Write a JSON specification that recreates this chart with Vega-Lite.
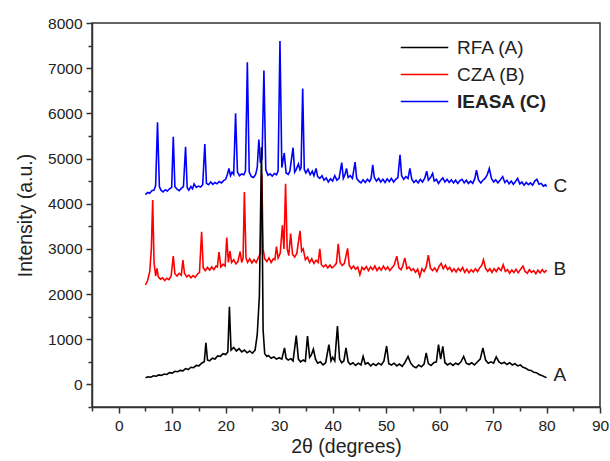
{
"$schema":"https://vega.github.io/schema/vega-lite/v6.json",
"width":508,"height":384,"autosize":"none",
"padding":{"left":92,"top":23,"right":10,"bottom":54},
"config":{"view":{"stroke":"#333","strokeWidth":1.5},"font":"Liberation Sans"},
"datasets":{
"ends":[{"t":"C","x":81.3,"y":4400},{"t":"B","x":81.3,"y":2560},{"t":"A","x":81.3,"y":200}],
"xrd":[
{"s":"IEASA (C)","x":5.0,"y":4200},{"s":"IEASA (C)","x":5.4,"y":4250},{"s":"IEASA (C)","x":5.8,"y":4230},{"s":"IEASA (C)","x":6.2,"y":4290},{"s":"IEASA (C)","x":6.6,"y":4300},{"s":"IEASA (C)","x":6.9,"y":4400},{"s":"IEASA (C)","x":7.25,"y":5800},{"s":"IEASA (C)","x":7.6,"y":4380},{"s":"IEASA (C)","x":7.9,"y":4300},{"s":"IEASA (C)","x":8.3,"y":4260},{"s":"IEASA (C)","x":8.7,"y":4310},{"s":"IEASA (C)","x":9.1,"y":4280},{"s":"IEASA (C)","x":9.5,"y":4330},{"s":"IEASA (C)","x":9.9,"y":4360},{"s":"IEASA (C)","x":10.2,"y":5480},{"s":"IEASA (C)","x":10.5,"y":4380},{"s":"IEASA (C)","x":10.9,"y":4320},{"s":"IEASA (C)","x":11.3,"y":4290},{"s":"IEASA (C)","x":11.7,"y":4340},{"s":"IEASA (C)","x":12.1,"y":4380},{"s":"IEASA (C)","x":12.5,"y":5260},{"s":"IEASA (C)","x":12.8,"y":4360},{"s":"IEASA (C)","x":13.1,"y":4300},{"s":"IEASA (C)","x":13.5,"y":4380},{"s":"IEASA (C)","x":13.8,"y":4330},{"s":"IEASA (C)","x":14.1,"y":4440},{"s":"IEASA (C)","x":14.5,"y":4360},{"s":"IEASA (C)","x":14.9,"y":4390},{"s":"IEASA (C)","x":15.3,"y":4370},{"s":"IEASA (C)","x":15.7,"y":4420},{"s":"IEASA (C)","x":16.1,"y":5320},{"s":"IEASA (C)","x":16.4,"y":4450},{"s":"IEASA (C)","x":16.8,"y":4420},{"s":"IEASA (C)","x":17.2,"y":4480},{"s":"IEASA (C)","x":17.6,"y":4430},{"s":"IEASA (C)","x":18.0,"y":4470},{"s":"IEASA (C)","x":18.4,"y":4440},{"s":"IEASA (C)","x":18.8,"y":4490},{"s":"IEASA (C)","x":19.2,"y":4460},{"s":"IEASA (C)","x":19.6,"y":4510},{"s":"IEASA (C)","x":20.0,"y":4540},{"s":"IEASA (C)","x":20.3,"y":4640},{"s":"IEASA (C)","x":20.6,"y":4780},{"s":"IEASA (C)","x":20.9,"y":4620},{"s":"IEASA (C)","x":21.2,"y":4700},{"s":"IEASA (C)","x":21.5,"y":4650},{"s":"IEASA (C)","x":21.85,"y":6000},{"s":"IEASA (C)","x":22.2,"y":4700},{"s":"IEASA (C)","x":22.6,"y":4620},{"s":"IEASA (C)","x":23.0,"y":4660},{"s":"IEASA (C)","x":23.4,"y":4640},{"s":"IEASA (C)","x":23.7,"y":4720},{"s":"IEASA (C)","x":24.05,"y":7130},{"s":"IEASA (C)","x":24.4,"y":4700},{"s":"IEASA (C)","x":24.8,"y":4600},{"s":"IEASA (C)","x":25.2,"y":4580},{"s":"IEASA (C)","x":25.6,"y":4650},{"s":"IEASA (C)","x":25.9,"y":4800},{"s":"IEASA (C)","x":26.2,"y":5420},{"s":"IEASA (C)","x":26.5,"y":4900},{"s":"IEASA (C)","x":26.8,"y":5000},{"s":"IEASA (C)","x":27.15,"y":6950},{"s":"IEASA (C)","x":27.5,"y":4750},{"s":"IEASA (C)","x":27.9,"y":4630},{"s":"IEASA (C)","x":28.3,"y":4660},{"s":"IEASA (C)","x":28.7,"y":4610},{"s":"IEASA (C)","x":29.1,"y":4670},{"s":"IEASA (C)","x":29.5,"y":4640},{"s":"IEASA (C)","x":29.8,"y":4720},{"s":"IEASA (C)","x":30.15,"y":7600},{"s":"IEASA (C)","x":30.5,"y":4800},{"s":"IEASA (C)","x":30.95,"y":5120},{"s":"IEASA (C)","x":31.3,"y":4680},{"s":"IEASA (C)","x":31.7,"y":4650},{"s":"IEASA (C)","x":32.0,"y":4720},{"s":"IEASA (C)","x":32.6,"y":5240},{"s":"IEASA (C)","x":32.9,"y":4700},{"s":"IEASA (C)","x":33.2,"y":4760},{"s":"IEASA (C)","x":33.6,"y":4880},{"s":"IEASA (C)","x":33.9,"y":4750},{"s":"IEASA (C)","x":34.1,"y":4800},{"s":"IEASA (C)","x":34.4,"y":6550},{"s":"IEASA (C)","x":34.7,"y":4760},{"s":"IEASA (C)","x":35.0,"y":4680},{"s":"IEASA (C)","x":35.4,"y":4760},{"s":"IEASA (C)","x":35.8,"y":4640},{"s":"IEASA (C)","x":36.2,"y":4720},{"s":"IEASA (C)","x":36.5,"y":4620},{"s":"IEASA (C)","x":36.9,"y":4780},{"s":"IEASA (C)","x":37.2,"y":4600},{"s":"IEASA (C)","x":37.6,"y":4560},{"s":"IEASA (C)","x":38.0,"y":4620},{"s":"IEASA (C)","x":38.4,"y":4520},{"s":"IEASA (C)","x":38.8,"y":4570},{"s":"IEASA (C)","x":39.2,"y":4480},{"s":"IEASA (C)","x":39.6,"y":4550},{"s":"IEASA (C)","x":40.0,"y":4500},{"s":"IEASA (C)","x":40.4,"y":4620},{"s":"IEASA (C)","x":40.8,"y":4520},{"s":"IEASA (C)","x":41.2,"y":4560},{"s":"IEASA (C)","x":41.7,"y":4910},{"s":"IEASA (C)","x":42.0,"y":4560},{"s":"IEASA (C)","x":42.3,"y":4640},{"s":"IEASA (C)","x":42.6,"y":4780},{"s":"IEASA (C)","x":42.9,"y":4580},{"s":"IEASA (C)","x":43.3,"y":4620},{"s":"IEASA (C)","x":43.7,"y":4560},{"s":"IEASA (C)","x":44.2,"y":4920},{"s":"IEASA (C)","x":44.5,"y":4560},{"s":"IEASA (C)","x":44.9,"y":4500},{"s":"IEASA (C)","x":45.3,"y":4460},{"s":"IEASA (C)","x":45.7,"y":4530},{"s":"IEASA (C)","x":46.1,"y":4470},{"s":"IEASA (C)","x":46.5,"y":4540},{"s":"IEASA (C)","x":46.9,"y":4490},{"s":"IEASA (C)","x":47.2,"y":4560},{"s":"IEASA (C)","x":47.5,"y":4860},{"s":"IEASA (C)","x":47.8,"y":4580},{"s":"IEASA (C)","x":48.2,"y":4500},{"s":"IEASA (C)","x":48.6,"y":4560},{"s":"IEASA (C)","x":49.0,"y":4480},{"s":"IEASA (C)","x":49.4,"y":4540},{"s":"IEASA (C)","x":49.8,"y":4470},{"s":"IEASA (C)","x":50.2,"y":4550},{"s":"IEASA (C)","x":50.6,"y":4490},{"s":"IEASA (C)","x":51.0,"y":4560},{"s":"IEASA (C)","x":51.4,"y":4480},{"s":"IEASA (C)","x":51.8,"y":4540},{"s":"IEASA (C)","x":52.2,"y":4580},{"s":"IEASA (C)","x":52.6,"y":5080},{"s":"IEASA (C)","x":52.9,"y":4620},{"s":"IEASA (C)","x":53.3,"y":4540},{"s":"IEASA (C)","x":53.7,"y":4600},{"s":"IEASA (C)","x":54.1,"y":4560},{"s":"IEASA (C)","x":54.45,"y":4780},{"s":"IEASA (C)","x":54.8,"y":4540},{"s":"IEASA (C)","x":55.2,"y":4470},{"s":"IEASA (C)","x":55.6,"y":4520},{"s":"IEASA (C)","x":56.0,"y":4460},{"s":"IEASA (C)","x":56.4,"y":4540},{"s":"IEASA (C)","x":56.8,"y":4480},{"s":"IEASA (C)","x":57.2,"y":4560},{"s":"IEASA (C)","x":57.6,"y":4720},{"s":"IEASA (C)","x":57.9,"y":4520},{"s":"IEASA (C)","x":58.3,"y":4580},{"s":"IEASA (C)","x":58.7,"y":4670},{"s":"IEASA (C)","x":59.0,"y":4500},{"s":"IEASA (C)","x":59.4,"y":4540},{"s":"IEASA (C)","x":59.8,"y":4450},{"s":"IEASA (C)","x":60.2,"y":4520},{"s":"IEASA (C)","x":60.6,"y":4570},{"s":"IEASA (C)","x":61.0,"y":4480},{"s":"IEASA (C)","x":61.4,"y":4540},{"s":"IEASA (C)","x":61.8,"y":4470},{"s":"IEASA (C)","x":62.2,"y":4530},{"s":"IEASA (C)","x":62.6,"y":4460},{"s":"IEASA (C)","x":63.0,"y":4520},{"s":"IEASA (C)","x":63.4,"y":4450},{"s":"IEASA (C)","x":63.8,"y":4510},{"s":"IEASA (C)","x":64.2,"y":4540},{"s":"IEASA (C)","x":64.6,"y":4460},{"s":"IEASA (C)","x":65.0,"y":4520},{"s":"IEASA (C)","x":65.4,"y":4450},{"s":"IEASA (C)","x":65.8,"y":4500},{"s":"IEASA (C)","x":66.2,"y":4450},{"s":"IEASA (C)","x":66.6,"y":4560},{"s":"IEASA (C)","x":66.9,"y":4740},{"s":"IEASA (C)","x":67.3,"y":4520},{"s":"IEASA (C)","x":67.7,"y":4460},{"s":"IEASA (C)","x":68.1,"y":4520},{"s":"IEASA (C)","x":68.5,"y":4560},{"s":"IEASA (C)","x":68.9,"y":4640},{"s":"IEASA (C)","x":69.3,"y":4780},{"s":"IEASA (C)","x":69.7,"y":4560},{"s":"IEASA (C)","x":70.1,"y":4480},{"s":"IEASA (C)","x":70.5,"y":4530},{"s":"IEASA (C)","x":70.9,"y":4460},{"s":"IEASA (C)","x":71.3,"y":4520},{"s":"IEASA (C)","x":71.8,"y":4600},{"s":"IEASA (C)","x":72.2,"y":4470},{"s":"IEASA (C)","x":72.6,"y":4520},{"s":"IEASA (C)","x":73.0,"y":4440},{"s":"IEASA (C)","x":73.4,"y":4500},{"s":"IEASA (C)","x":73.8,"y":4430},{"s":"IEASA (C)","x":74.2,"y":4490},{"s":"IEASA (C)","x":74.6,"y":4560},{"s":"IEASA (C)","x":75.0,"y":4440},{"s":"IEASA (C)","x":75.4,"y":4480},{"s":"IEASA (C)","x":75.8,"y":4410},{"s":"IEASA (C)","x":76.2,"y":4470},{"s":"IEASA (C)","x":76.6,"y":4420},{"s":"IEASA (C)","x":77.0,"y":4460},{"s":"IEASA (C)","x":77.4,"y":4410},{"s":"IEASA (C)","x":77.8,"y":4500},{"s":"IEASA (C)","x":78.2,"y":4540},{"s":"IEASA (C)","x":78.6,"y":4430},{"s":"IEASA (C)","x":79.0,"y":4450},{"s":"IEASA (C)","x":79.4,"y":4390},{"s":"IEASA (C)","x":79.8,"y":4420},{"s":"IEASA (C)","x":80.0,"y":4380},
{"s":"CZA (B)","x":5.0,"y":2200},{"s":"CZA (B)","x":5.4,"y":2300},{"s":"CZA (B)","x":5.8,"y":2500},{"s":"CZA (B)","x":6.1,"y":3000},{"s":"CZA (B)","x":6.35,"y":4080},{"s":"CZA (B)","x":6.6,"y":2700},{"s":"CZA (B)","x":6.9,"y":2400},{"s":"CZA (B)","x":7.15,"y":2570},{"s":"CZA (B)","x":7.4,"y":2380},{"s":"CZA (B)","x":7.8,"y":2330},{"s":"CZA (B)","x":8.2,"y":2360},{"s":"CZA (B)","x":8.6,"y":2300},{"s":"CZA (B)","x":9.0,"y":2350},{"s":"CZA (B)","x":9.4,"y":2320},{"s":"CZA (B)","x":9.8,"y":2400},{"s":"CZA (B)","x":10.2,"y":2840},{"s":"CZA (B)","x":10.5,"y":2450},{"s":"CZA (B)","x":10.9,"y":2400},{"s":"CZA (B)","x":11.3,"y":2460},{"s":"CZA (B)","x":11.7,"y":2420},{"s":"CZA (B)","x":12.0,"y":2750},{"s":"CZA (B)","x":12.3,"y":2460},{"s":"CZA (B)","x":12.7,"y":2380},{"s":"CZA (B)","x":13.1,"y":2420},{"s":"CZA (B)","x":13.5,"y":2360},{"s":"CZA (B)","x":13.9,"y":2410},{"s":"CZA (B)","x":14.3,"y":2370},{"s":"CZA (B)","x":14.7,"y":2440},{"s":"CZA (B)","x":15.1,"y":2480},{"s":"CZA (B)","x":15.5,"y":3380},{"s":"CZA (B)","x":15.8,"y":2580},{"s":"CZA (B)","x":16.2,"y":2520},{"s":"CZA (B)","x":16.6,"y":2590},{"s":"CZA (B)","x":17.0,"y":2530},{"s":"CZA (B)","x":17.4,"y":2600},{"s":"CZA (B)","x":17.8,"y":2540},{"s":"CZA (B)","x":18.2,"y":2620},{"s":"CZA (B)","x":18.45,"y":2600},{"s":"CZA (B)","x":18.75,"y":2930},{"s":"CZA (B)","x":19.1,"y":2600},{"s":"CZA (B)","x":19.5,"y":2660},{"s":"CZA (B)","x":19.9,"y":2620},{"s":"CZA (B)","x":20.2,"y":3250},{"s":"CZA (B)","x":20.5,"y":2700},{"s":"CZA (B)","x":20.8,"y":2950},{"s":"CZA (B)","x":21.1,"y":2700},{"s":"CZA (B)","x":21.5,"y":2760},{"s":"CZA (B)","x":21.9,"y":2670},{"s":"CZA (B)","x":22.3,"y":2720},{"s":"CZA (B)","x":22.7,"y":2940},{"s":"CZA (B)","x":23.0,"y":2700},{"s":"CZA (B)","x":23.25,"y":2800},{"s":"CZA (B)","x":23.5,"y":4260},{"s":"CZA (B)","x":23.8,"y":2800},{"s":"CZA (B)","x":24.1,"y":2700},{"s":"CZA (B)","x":24.5,"y":2780},{"s":"CZA (B)","x":24.9,"y":2690},{"s":"CZA (B)","x":25.3,"y":2760},{"s":"CZA (B)","x":25.7,"y":2700},{"s":"CZA (B)","x":26.1,"y":2800},{"s":"CZA (B)","x":26.5,"y":2900},{"s":"CZA (B)","x":26.75,"y":4650},{"s":"CZA (B)","x":27.0,"y":3000},{"s":"CZA (B)","x":27.3,"y":2780},{"s":"CZA (B)","x":27.7,"y":2720},{"s":"CZA (B)","x":28.1,"y":2800},{"s":"CZA (B)","x":28.5,"y":2700},{"s":"CZA (B)","x":28.9,"y":2780},{"s":"CZA (B)","x":29.2,"y":2760},{"s":"CZA (B)","x":29.5,"y":3050},{"s":"CZA (B)","x":29.8,"y":2800},{"s":"CZA (B)","x":30.2,"y":2900},{"s":"CZA (B)","x":30.6,"y":3520},{"s":"CZA (B)","x":30.9,"y":3000},{"s":"CZA (B)","x":31.2,"y":4440},{"s":"CZA (B)","x":31.5,"y":3000},{"s":"CZA (B)","x":31.8,"y":2850},{"s":"CZA (B)","x":32.15,"y":3340},{"s":"CZA (B)","x":32.5,"y":2880},{"s":"CZA (B)","x":32.9,"y":2820},{"s":"CZA (B)","x":33.3,"y":2900},{"s":"CZA (B)","x":33.9,"y":3400},{"s":"CZA (B)","x":34.2,"y":2950},{"s":"CZA (B)","x":34.5,"y":3000},{"s":"CZA (B)","x":34.9,"y":2760},{"s":"CZA (B)","x":35.3,"y":2820},{"s":"CZA (B)","x":35.7,"y":2700},{"s":"CZA (B)","x":36.1,"y":2780},{"s":"CZA (B)","x":36.5,"y":2680},{"s":"CZA (B)","x":36.9,"y":2750},{"s":"CZA (B)","x":37.3,"y":2700},{"s":"CZA (B)","x":37.6,"y":3000},{"s":"CZA (B)","x":37.9,"y":2650},{"s":"CZA (B)","x":38.3,"y":2600},{"s":"CZA (B)","x":38.7,"y":2650},{"s":"CZA (B)","x":39.1,"y":2580},{"s":"CZA (B)","x":39.5,"y":2640},{"s":"CZA (B)","x":39.9,"y":2580},{"s":"CZA (B)","x":40.3,"y":2620},{"s":"CZA (B)","x":40.7,"y":2680},{"s":"CZA (B)","x":41.05,"y":3110},{"s":"CZA (B)","x":41.4,"y":2700},{"s":"CZA (B)","x":41.8,"y":2630},{"s":"CZA (B)","x":42.2,"y":2680},{"s":"CZA (B)","x":42.8,"y":3010},{"s":"CZA (B)","x":43.1,"y":2640},{"s":"CZA (B)","x":43.5,"y":2560},{"s":"CZA (B)","x":43.9,"y":2620},{"s":"CZA (B)","x":44.3,"y":2550},{"s":"CZA (B)","x":44.7,"y":2600},{"s":"CZA (B)","x":45.1,"y":2430},{"s":"CZA (B)","x":45.5,"y":2590},{"s":"CZA (B)","x":45.9,"y":2540},{"s":"CZA (B)","x":46.3,"y":2610},{"s":"CZA (B)","x":46.7,"y":2520},{"s":"CZA (B)","x":47.1,"y":2600},{"s":"CZA (B)","x":47.5,"y":2540},{"s":"CZA (B)","x":47.9,"y":2620},{"s":"CZA (B)","x":48.3,"y":2520},{"s":"CZA (B)","x":48.7,"y":2590},{"s":"CZA (B)","x":49.1,"y":2530},{"s":"CZA (B)","x":49.5,"y":2620},{"s":"CZA (B)","x":49.9,"y":2540},{"s":"CZA (B)","x":50.3,"y":2600},{"s":"CZA (B)","x":50.7,"y":2520},{"s":"CZA (B)","x":51.1,"y":2580},{"s":"CZA (B)","x":51.5,"y":2640},{"s":"CZA (B)","x":52.0,"y":2840},{"s":"CZA (B)","x":52.4,"y":2580},{"s":"CZA (B)","x":52.8,"y":2540},{"s":"CZA (B)","x":53.1,"y":2620},{"s":"CZA (B)","x":53.5,"y":2800},{"s":"CZA (B)","x":53.9,"y":2560},{"s":"CZA (B)","x":54.3,"y":2600},{"s":"CZA (B)","x":54.7,"y":2520},{"s":"CZA (B)","x":55.1,"y":2560},{"s":"CZA (B)","x":55.5,"y":2480},{"s":"CZA (B)","x":55.9,"y":2550},{"s":"CZA (B)","x":56.3,"y":2390},{"s":"CZA (B)","x":56.7,"y":2560},{"s":"CZA (B)","x":57.1,"y":2500},{"s":"CZA (B)","x":57.5,"y":2600},{"s":"CZA (B)","x":57.9,"y":2860},{"s":"CZA (B)","x":58.3,"y":2570},{"s":"CZA (B)","x":58.7,"y":2520},{"s":"CZA (B)","x":59.1,"y":2580},{"s":"CZA (B)","x":59.5,"y":2500},{"s":"CZA (B)","x":59.9,"y":2610},{"s":"CZA (B)","x":60.3,"y":2680},{"s":"CZA (B)","x":60.7,"y":2560},{"s":"CZA (B)","x":61.1,"y":2640},{"s":"CZA (B)","x":61.5,"y":2540},{"s":"CZA (B)","x":61.9,"y":2590},{"s":"CZA (B)","x":62.3,"y":2500},{"s":"CZA (B)","x":62.7,"y":2560},{"s":"CZA (B)","x":63.1,"y":2490},{"s":"CZA (B)","x":63.5,"y":2570},{"s":"CZA (B)","x":63.9,"y":2510},{"s":"CZA (B)","x":64.3,"y":2590},{"s":"CZA (B)","x":64.7,"y":2480},{"s":"CZA (B)","x":65.1,"y":2550},{"s":"CZA (B)","x":65.5,"y":2470},{"s":"CZA (B)","x":65.9,"y":2540},{"s":"CZA (B)","x":66.3,"y":2490},{"s":"CZA (B)","x":66.7,"y":2560},{"s":"CZA (B)","x":67.1,"y":2500},{"s":"CZA (B)","x":67.5,"y":2580},{"s":"CZA (B)","x":67.9,"y":2640},{"s":"CZA (B)","x":68.2,"y":2760},{"s":"CZA (B)","x":68.6,"y":2570},{"s":"CZA (B)","x":69.0,"y":2500},{"s":"CZA (B)","x":69.4,"y":2560},{"s":"CZA (B)","x":69.8,"y":2480},{"s":"CZA (B)","x":70.2,"y":2560},{"s":"CZA (B)","x":70.6,"y":2500},{"s":"CZA (B)","x":71.0,"y":2580},{"s":"CZA (B)","x":71.5,"y":2520},{"s":"CZA (B)","x":71.9,"y":2650},{"s":"CZA (B)","x":72.3,"y":2500},{"s":"CZA (B)","x":72.7,"y":2540},{"s":"CZA (B)","x":73.1,"y":2460},{"s":"CZA (B)","x":73.5,"y":2530},{"s":"CZA (B)","x":73.9,"y":2480},{"s":"CZA (B)","x":74.3,"y":2550},{"s":"CZA (B)","x":74.7,"y":2470},{"s":"CZA (B)","x":75.1,"y":2540},{"s":"CZA (B)","x":75.6,"y":2620},{"s":"CZA (B)","x":76.0,"y":2500},{"s":"CZA (B)","x":76.4,"y":2460},{"s":"CZA (B)","x":76.8,"y":2540},{"s":"CZA (B)","x":77.2,"y":2480},{"s":"CZA (B)","x":77.6,"y":2520},{"s":"CZA (B)","x":78.0,"y":2450},{"s":"CZA (B)","x":78.4,"y":2530},{"s":"CZA (B)","x":78.8,"y":2470},{"s":"CZA (B)","x":79.2,"y":2540},{"s":"CZA (B)","x":79.6,"y":2480},{"s":"CZA (B)","x":80.0,"y":2530},
{"s":"RFA (A)","x":5.0,"y":150},{"s":"RFA (A)","x":5.5,"y":170},{"s":"RFA (A)","x":6.0,"y":160},{"s":"RFA (A)","x":6.5,"y":190},{"s":"RFA (A)","x":7.0,"y":180},{"s":"RFA (A)","x":7.5,"y":210},{"s":"RFA (A)","x":8.0,"y":200},{"s":"RFA (A)","x":8.5,"y":230},{"s":"RFA (A)","x":9.0,"y":220},{"s":"RFA (A)","x":9.5,"y":260},{"s":"RFA (A)","x":10.0,"y":250},{"s":"RFA (A)","x":10.5,"y":290},{"s":"RFA (A)","x":11.0,"y":280},{"s":"RFA (A)","x":11.5,"y":310},{"s":"RFA (A)","x":12.0,"y":300},{"s":"RFA (A)","x":12.5,"y":350},{"s":"RFA (A)","x":13.0,"y":330},{"s":"RFA (A)","x":13.5,"y":380},{"s":"RFA (A)","x":14.0,"y":370},{"s":"RFA (A)","x":14.5,"y":420},{"s":"RFA (A)","x":15.0,"y":410},{"s":"RFA (A)","x":15.5,"y":470},{"s":"RFA (A)","x":16.0,"y":500},{"s":"RFA (A)","x":16.3,"y":920},{"s":"RFA (A)","x":16.6,"y":540},{"s":"RFA (A)","x":17.0,"y":520},{"s":"RFA (A)","x":17.5,"y":580},{"s":"RFA (A)","x":18.0,"y":560},{"s":"RFA (A)","x":18.5,"y":630},{"s":"RFA (A)","x":19.0,"y":620},{"s":"RFA (A)","x":19.5,"y":680},{"s":"RFA (A)","x":20.0,"y":660},{"s":"RFA (A)","x":20.4,"y":720},{"s":"RFA (A)","x":20.7,"y":1720},{"s":"RFA (A)","x":21.0,"y":760},{"s":"RFA (A)","x":21.5,"y":820},{"s":"RFA (A)","x":22.0,"y":740},{"s":"RFA (A)","x":22.5,"y":790},{"s":"RFA (A)","x":23.0,"y":720},{"s":"RFA (A)","x":23.5,"y":760},{"s":"RFA (A)","x":24.0,"y":700},{"s":"RFA (A)","x":24.5,"y":740},{"s":"RFA (A)","x":25.0,"y":690},{"s":"RFA (A)","x":25.5,"y":760},{"s":"RFA (A)","x":25.9,"y":1100},{"s":"RFA (A)","x":26.3,"y":1950},{"s":"RFA (A)","x":26.7,"y":5250},{"s":"RFA (A)","x":27.0,"y":1200},{"s":"RFA (A)","x":27.3,"y":680},{"s":"RFA (A)","x":27.7,"y":620},{"s":"RFA (A)","x":28.0,"y":640},{"s":"RFA (A)","x":28.5,"y":580},{"s":"RFA (A)","x":29.0,"y":610},{"s":"RFA (A)","x":29.5,"y":560},{"s":"RFA (A)","x":30.0,"y":590},{"s":"RFA (A)","x":30.5,"y":560},{"s":"RFA (A)","x":31.0,"y":810},{"s":"RFA (A)","x":31.3,"y":580},{"s":"RFA (A)","x":31.7,"y":540},{"s":"RFA (A)","x":32.2,"y":570},{"s":"RFA (A)","x":32.6,"y":520},{"s":"RFA (A)","x":33.2,"y":1080},{"s":"RFA (A)","x":33.6,"y":560},{"s":"RFA (A)","x":34.0,"y":500},{"s":"RFA (A)","x":34.5,"y":540},{"s":"RFA (A)","x":34.9,"y":510},{"s":"RFA (A)","x":35.3,"y":1070},{"s":"RFA (A)","x":35.7,"y":600},{"s":"RFA (A)","x":36.0,"y":650},{"s":"RFA (A)","x":36.4,"y":780},{"s":"RFA (A)","x":36.8,"y":560},{"s":"RFA (A)","x":37.2,"y":470},{"s":"RFA (A)","x":37.7,"y":500},{"s":"RFA (A)","x":38.2,"y":430},{"s":"RFA (A)","x":38.7,"y":480},{"s":"RFA (A)","x":39.3,"y":880},{"s":"RFA (A)","x":39.7,"y":520},{"s":"RFA (A)","x":40.0,"y":600},{"s":"RFA (A)","x":40.4,"y":520},{"s":"RFA (A)","x":40.9,"y":1290},{"s":"RFA (A)","x":41.3,"y":560},{"s":"RFA (A)","x":41.7,"y":480},{"s":"RFA (A)","x":42.1,"y":520},{"s":"RFA (A)","x":42.5,"y":810},{"s":"RFA (A)","x":42.9,"y":500},{"s":"RFA (A)","x":43.3,"y":440},{"s":"RFA (A)","x":43.8,"y":480},{"s":"RFA (A)","x":44.3,"y":420},{"s":"RFA (A)","x":44.8,"y":470},{"s":"RFA (A)","x":45.3,"y":430},{"s":"RFA (A)","x":45.7,"y":620},{"s":"RFA (A)","x":46.1,"y":450},{"s":"RFA (A)","x":46.6,"y":480},{"s":"RFA (A)","x":47.1,"y":410},{"s":"RFA (A)","x":47.6,"y":460},{"s":"RFA (A)","x":48.1,"y":420},{"s":"RFA (A)","x":48.6,"y":470},{"s":"RFA (A)","x":49.1,"y":430},{"s":"RFA (A)","x":49.6,"y":520},{"s":"RFA (A)","x":50.1,"y":850},{"s":"RFA (A)","x":50.5,"y":460},{"s":"RFA (A)","x":51.0,"y":430},{"s":"RFA (A)","x":51.5,"y":470},{"s":"RFA (A)","x":52.0,"y":410},{"s":"RFA (A)","x":52.5,"y":450},{"s":"RFA (A)","x":53.0,"y":400},{"s":"RFA (A)","x":53.5,"y":480},{"s":"RFA (A)","x":54.1,"y":620},{"s":"RFA (A)","x":54.6,"y":470},{"s":"RFA (A)","x":55.1,"y":400},{"s":"RFA (A)","x":55.6,"y":370},{"s":"RFA (A)","x":56.1,"y":430},{"s":"RFA (A)","x":56.6,"y":390},{"s":"RFA (A)","x":57.1,"y":450},{"s":"RFA (A)","x":57.5,"y":700},{"s":"RFA (A)","x":57.9,"y":460},{"s":"RFA (A)","x":58.4,"y":420},{"s":"RFA (A)","x":58.9,"y":480},{"s":"RFA (A)","x":59.4,"y":500},{"s":"RFA (A)","x":59.8,"y":880},{"s":"RFA (A)","x":60.2,"y":560},{"s":"RFA (A)","x":60.6,"y":840},{"s":"RFA (A)","x":61.0,"y":480},{"s":"RFA (A)","x":61.5,"y":430},{"s":"RFA (A)","x":62.0,"y":470},{"s":"RFA (A)","x":62.5,"y":420},{"s":"RFA (A)","x":63.0,"y":470},{"s":"RFA (A)","x":63.5,"y":440},{"s":"RFA (A)","x":64.0,"y":500},{"s":"RFA (A)","x":64.5,"y":620},{"s":"RFA (A)","x":65.0,"y":470},{"s":"RFA (A)","x":65.5,"y":440},{"s":"RFA (A)","x":66.0,"y":480},{"s":"RFA (A)","x":66.5,"y":430},{"s":"RFA (A)","x":67.0,"y":490},{"s":"RFA (A)","x":67.6,"y":560},{"s":"RFA (A)","x":68.1,"y":810},{"s":"RFA (A)","x":68.6,"y":540},{"s":"RFA (A)","x":69.1,"y":470},{"s":"RFA (A)","x":69.6,"y":500},{"s":"RFA (A)","x":70.1,"y":470},{"s":"RFA (A)","x":70.6,"y":610},{"s":"RFA (A)","x":71.1,"y":500},{"s":"RFA (A)","x":71.6,"y":460},{"s":"RFA (A)","x":72.1,"y":490},{"s":"RFA (A)","x":72.6,"y":440},{"s":"RFA (A)","x":73.1,"y":480},{"s":"RFA (A)","x":73.6,"y":430},{"s":"RFA (A)","x":74.1,"y":460},{"s":"RFA (A)","x":74.6,"y":410},{"s":"RFA (A)","x":75.1,"y":430},{"s":"RFA (A)","x":75.6,"y":380},{"s":"RFA (A)","x":76.1,"y":360},{"s":"RFA (A)","x":76.6,"y":320},{"s":"RFA (A)","x":77.1,"y":310},{"s":"RFA (A)","x":77.6,"y":270},{"s":"RFA (A)","x":78.1,"y":260},{"s":"RFA (A)","x":78.6,"y":220},{"s":"RFA (A)","x":79.1,"y":200},{"s":"RFA (A)","x":79.6,"y":170},{"s":"RFA (A)","x":80.0,"y":150}
]},
"resolve":{"axis":{"x":"independent","y":"independent"}},
"layer":[
{"data":{"name":"xrd"},
 "mark":{"type":"line","strokeWidth":1.6,"clip":true},
 "encoding":{
  "x":{"field":"x","type":"quantitative","scale":{"domain":[-5,90],"nice":false,"zero":false},
   "axis":{"orient":"bottom","values":[0,10,20,30,40,50,60,70,80,90],"title":"2θ (degrees)","grid":false,"tickSize":6,"tickColor":"#333","tickWidth":1.5,"domainColor":"#333","domainWidth":1.5,"labelFontSize":15.5,"labelColor":"#222","labelPadding":5,"titleFontSize":19.5,"titleFontWeight":"normal","titleColor":"#222","titlePadding":4,"labelFlush":false}},
  "y":{"field":"y","type":"quantitative","scale":{"domain":[-500,8000],"nice":false,"zero":false},
   "axis":{"orient":"left","values":[0,1000,2000,3000,4000,5000,6000,7000,8000],"format":"d","title":"Intensity (a.u.)","grid":false,"tickSize":6,"tickColor":"#333","tickWidth":1.5,"domainColor":"#333","domainWidth":1.5,"labelFontSize":15.5,"labelColor":"#222","labelPadding":4,"titleFontSize":19.5,"titleFontWeight":"normal","titleColor":"#222","titlePadding":12,"labelFlush":false}},
  "color":{"field":"s","type":"nominal","scale":{"domain":["RFA (A)","CZA (B)","IEASA (C)"],"range":["#000000","#ff0000","#0000ff"]},
   "legend":{"title":null,"orient":"none","legendX":322,"legendY":14,"symbolType":"M-2.5,0H2.5","symbolSize":361,"symbolStrokeWidth":1.3,"symbolFillColor":"transparent","labelFontSize":19,"labelColor":"#222","rowPadding":6,"padding":0,"labelOffset":22,"symbolOffset":0,
    "encode":{"labels":{"update":{"fontWeight":{"signal":"datum.value === 'IEASA (C)' ? 'bold' : 'normal'"}}}}}}
 }},
{"data":{"name":"ends"},
 "mark":{"type":"text","align":"left","baseline":"middle","fontSize":19,"color":"#222"},
 "encoding":{
  "x":{"field":"x","type":"quantitative","axis":{"orient":"bottom","values":[-5,5,15,25,35,45,55,65,75,85],"labels":false,"title":null,"domain":false,"grid":false,"tickSize":4,"tickColor":"#333","tickWidth":1.5}},
  "y":{"field":"y","type":"quantitative","axis":{"orient":"left","values":[-500,500,1500,2500,3500,4500,5500,6500,7500],"labels":false,"title":null,"domain":false,"grid":false,"tickSize":4,"tickColor":"#333","tickWidth":1.5}},
  "text":{"field":"t"}
 }}
]
}
